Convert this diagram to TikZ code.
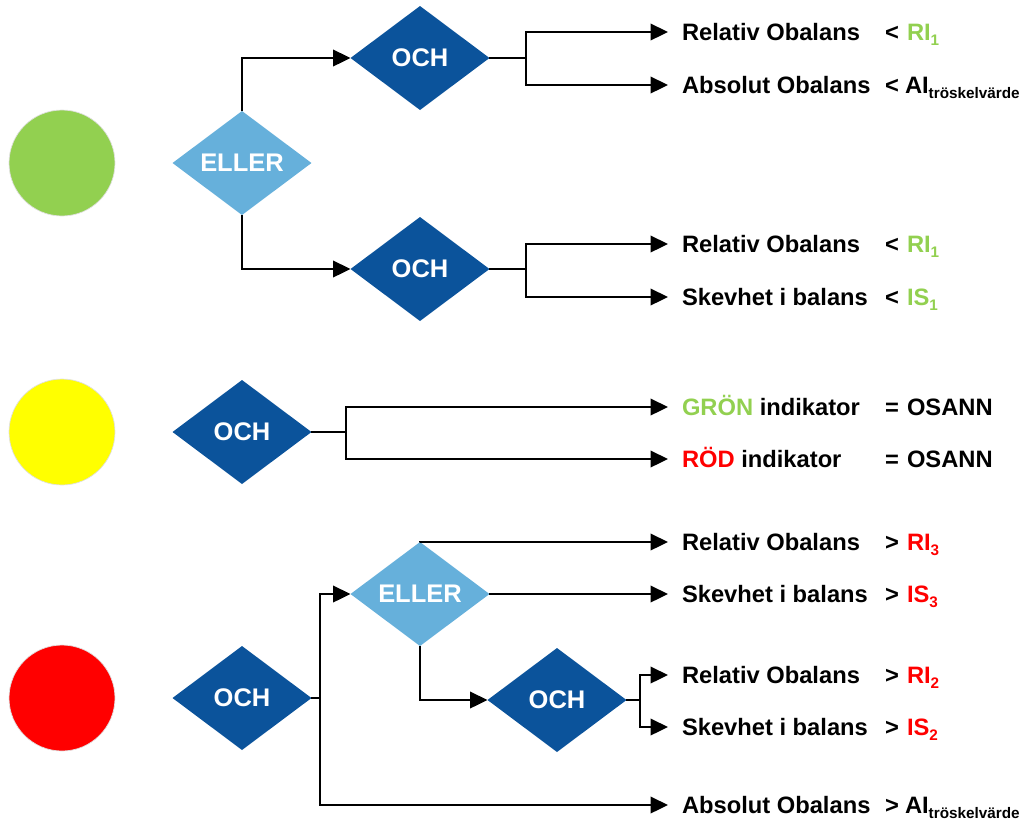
\documentclass[tikz,border=0pt]{standalone}
\usepackage{fontspec}
\setmainfont{Liberation Sans}
\usetikzlibrary{shapes.geometric,arrows.meta}

\definecolor{okgreen}{HTML}{92D050}
\definecolor{okred}{HTML}{FF0000}
\definecolor{okyellow}{HTML}{FFFF00}
\definecolor{darkblue}{HTML}{0B539B}
\definecolor{lightblue}{HTML}{66B0DB}

\newcommand\subtext[1]{\raisebox{-0.4ex}{\fontsize{8.7}{10}\selectfont #1}}

\tikzset{
  gate/.style={diamond, inner sep=0pt, outer sep=0pt, minimum width=2.78cm, minimum height=2.08cm,
    text=white, font=\fontsize{14.5}{17}\selectfont\bfseries},
  och/.style={gate, fill=darkblue},
  eller/.style={gate, fill=lightblue},
  lamp/.style={circle, minimum size=2.12cm, inner sep=0pt, draw=black!12, line width=0.4pt},
  wire/.style={line width=1.3pt},
  arr/.style={wire, -{Triangle[length=0.35cm,width=0.33cm]}},
  lbl/.style={anchor=west, inner xsep=0.28cm, inner ysep=0pt, outer sep=0pt,
    text height=11pt, text depth=1.3pt, font=\fontsize{13.5}{16}\selectfont\bfseries},
  rel/.style={lbl, inner xsep=0pt},
}

\begin{document}
\begin{tikzpicture}[x=0.02cm,y=-0.02cm]
  \useasboundingbox (0,0) rectangle (1027,823);
  \node[lamp, fill=okgreen] (green) at (62,163) {};
  \node[lamp, fill=okyellow] (yellow) at (62,432) {};
  \node[lamp, fill=okred] (red) at (62,698) {};

  \node[eller] (eller1) at (242,163) {ELLER};
  \node[och] (och1) at (420,58) {OCH};
  \node[och] (och2) at (420,269) {OCH};
  \node[och] (och3) at (242,432) {OCH};
  \node[och] (och4) at (242,698) {OCH};
  \node[eller] (eller2) at (420,594) {ELLER};
  \node[och] (och5) at (557,700) {OCH};

  \node[lbl] (r1) at (668,32) {Relativ Obalans};
  \node[lbl] (r2) at (668,85) {Absolut Obalans};
  \node[lbl] (r3) at (668,244) {Relativ Obalans};
  \node[lbl] (r4) at (668,297) {Skevhet i balans};
  \node[lbl] (r5) at (668,407) {\textcolor{okgreen}{GRÖN} indikator};
  \node[lbl] (r6) at (668,459) {\textcolor{okred}{RÖD} indikator};
  \node[lbl] (r7) at (668,542) {Relativ Obalans};
  \node[lbl] (r8) at (668,594) {Skevhet i balans};
  \node[lbl] (r9) at (668,675) {Relativ Obalans};
  \node[lbl] (r10) at (668,727) {Skevhet i balans};
  \node[lbl] (r11) at (668,805) {Absolut Obalans};

  \node[rel] (c1) at (885,32) {<};
  \node[rel] (c2) at (885,85) {<};
  \node[rel] (c3) at (885,244) {<};
  \node[rel] (c4) at (885,297) {<};
  \node[rel] (c5) at (885,407) {=};
  \node[rel] (c6) at (885,459) {=};
  \node[rel] (c7) at (885,542) {>};
  \node[rel] (c8) at (885,594) {>};
  \node[rel] (c9) at (885,675) {>};
  \node[rel] (c10) at (885,727) {>};
  \node[rel] (c11) at (885,805) {>};

  \node[rel] (v1) at (907,32) {\textcolor{okgreen}{RI\subtext{1}}};
  \node[rel] (v2) at (905,85) {AI\subtext{tröskelvärde}};
  \node[rel] (v3) at (907,244) {\textcolor{okgreen}{RI\subtext{1}}};
  \node[rel] (v4) at (907,297) {\textcolor{okgreen}{IS\subtext{1}}};
  \node[rel] (v5) at (907,407) {OSANN};
  \node[rel] (v6) at (907,459) {OSANN};
  \node[rel] (v7) at (907,542) {\textcolor{okred}{RI\subtext{3}}};
  \node[rel] (v8) at (907,594) {\textcolor{okred}{IS\subtext{3}}};
  \node[rel] (v9) at (907,675) {\textcolor{okred}{RI\subtext{2}}};
  \node[rel] (v10) at (907,727) {\textcolor{okred}{IS\subtext{2}}};
  \node[rel] (v11) at (905,805) {AI\subtext{tröskelvärde}};

  \coordinate (j1) at (526,58);
  \coordinate (j2) at (526,269);
  \coordinate (j3) at (346,432);
  \coordinate (j4) at (320,698);
  \coordinate (j5) at (640,700);

  \draw[arr] (eller1.north) |- (och1.west);
  \draw[arr] (eller1.south) |- (och2.west);
  \draw[wire] (och1.east) -- (j1);
  \draw[arr] (j1) |- (r1.west);
  \draw[arr] (j1) |- (r2.west);
  \draw[wire] (och2.east) -- (j2);
  \draw[arr] (j2) |- (r3.west);
  \draw[arr] (j2) |- (r4.west);

  \draw[wire] (och3.east) -- (j3);
  \draw[arr] (j3) |- (r5.west);
  \draw[arr] (j3) |- (r6.west);

  \draw[wire] (och4.east) -- (j4);
  \draw[arr] (j4) |- (eller2.west);
  \draw[arr] (j4) |- (r11.west);
  \draw[arr] (eller2.north) |- (r7.west);
  \draw[arr] (eller2.east) -- (r8.west);
  \draw[arr] (eller2.south) |- (och5.west);
  \draw[wire] (och5.east) -- (j5);
  \draw[arr] (j5) |- (r9.west);
  \draw[arr] (j5) |- (r10.west);
\end{tikzpicture}
\end{document}
